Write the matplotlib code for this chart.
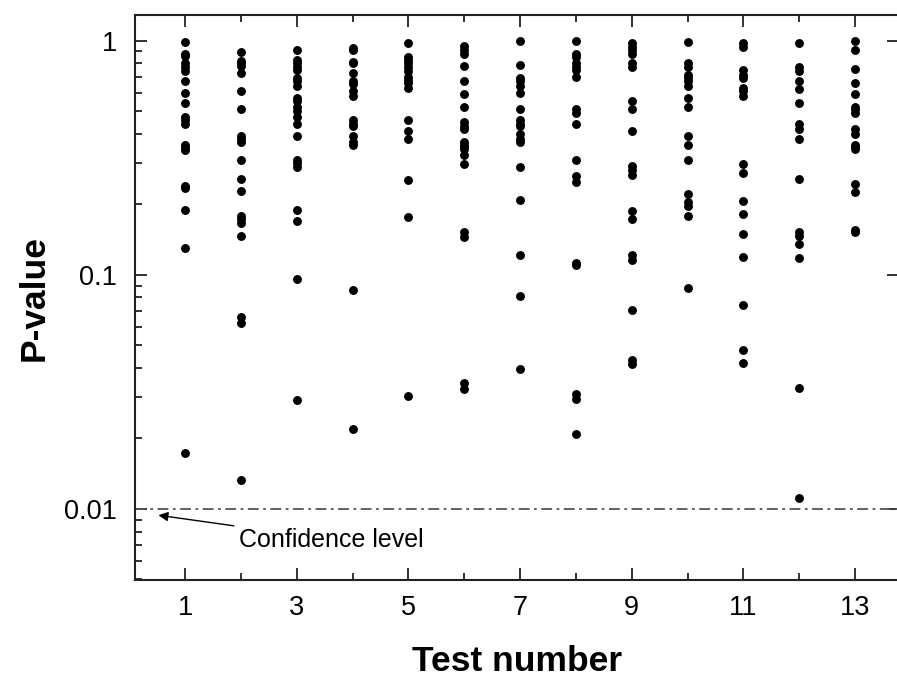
import matplotlib
matplotlib.use("Agg")
import matplotlib.pyplot as plt
from matplotlib.ticker import FixedLocator, LogLocator, NullFormatter, FixedFormatter

plt.rcParams["font.family"] = ["Liberation Sans", "DejaVu Sans"]

# P-values per test number
TESTS = list(range(1, 14))
P_VALUES = [
    [0.99, 0.875, 0.86, 0.80, 0.77, 0.74, 0.67, 0.60, 0.54, 0.47, 0.46, 0.44,
     0.36, 0.35, 0.34, 0.24, 0.235, 0.19, 0.13, 0.0174],
    [0.89, 0.82, 0.80, 0.78, 0.73, 0.61, 0.51, 0.39, 0.38, 0.37, 0.31, 0.257,
     0.227, 0.179, 0.173, 0.166, 0.147, 0.066, 0.0623, 0.0133],
    [0.91, 0.83, 0.80, 0.77, 0.75, 0.69, 0.67, 0.64, 0.57, 0.55, 0.52, 0.50,
     0.47, 0.44, 0.39, 0.31, 0.30, 0.29, 0.19, 0.17, 0.096, 0.0292],
    [0.93, 0.91, 0.81, 0.80, 0.73, 0.67, 0.65, 0.61, 0.58, 0.46, 0.44, 0.43,
     0.39, 0.37, 0.36, 0.0857, 0.022],
    [0.975, 0.855, 0.83, 0.80, 0.77, 0.74, 0.70, 0.68, 0.66, 0.63, 0.46, 0.41,
     0.38, 0.255, 0.177, 0.0305],
    [0.95, 0.91, 0.88, 0.78, 0.67, 0.59, 0.52, 0.45, 0.43, 0.42, 0.37, 0.36,
     0.353, 0.344, 0.326, 0.298, 0.152, 0.145, 0.0346, 0.0324],
    [1.0, 0.785, 0.69, 0.67, 0.64, 0.60, 0.51, 0.46, 0.44, 0.43, 0.40, 0.38,
     0.37, 0.29, 0.209, 0.121, 0.081, 0.0394],
    [0.995, 0.88, 0.855, 0.80, 0.775, 0.75, 0.70, 0.51, 0.49, 0.44, 0.31,
     0.263, 0.25, 0.112, 0.110, 0.031, 0.0296, 0.0208],
    [0.975, 0.94, 0.91, 0.88, 0.80, 0.775, 0.555, 0.51, 0.41, 0.292, 0.281,
     0.268, 0.187, 0.173, 0.121, 0.116, 0.071, 0.0431, 0.0414],
    [0.99, 0.80, 0.775, 0.71, 0.69, 0.67, 0.64, 0.57, 0.52, 0.39, 0.36, 0.31,
     0.221, 0.204, 0.196, 0.178, 0.088],
    [0.975, 0.94, 0.75, 0.71, 0.69, 0.63, 0.61, 0.58, 0.298, 0.272, 0.206,
     0.182, 0.150, 0.119, 0.0746, 0.0479, 0.0421],
    [0.975, 0.77, 0.74, 0.67, 0.62, 0.54, 0.44, 0.42, 0.38, 0.257, 0.153,
     0.147, 0.135, 0.118, 0.0327, 0.0111],
    [1.0, 0.91, 0.76, 0.66, 0.59, 0.52, 0.51, 0.49, 0.42, 0.40, 0.36, 0.353,
     0.344, 0.245, 0.226, 0.156, 0.152],
]
CONFIDENCE = 0.01

fig = plt.figure(figsize=(8.97, 6.78), dpi=100)
# right spine sits just past the image edge, as in the reference crop
ax = fig.add_axes([0.1505, 0.1445, 0.8518, 0.8334])

for t, vals in zip(TESTS, P_VALUES):
    ax.plot([t] * len(vals), vals, "o", color="black", ms=6.4, mec="none")

ax.axhline(CONFIDENCE, color="#555555", lw=1.3, ls=(0, (6, 2.5, 1.5, 2.5)))
ax.annotate("Confidence level", xy=(0.52, 0.0094), xytext=(1.97, 0.0074),
            fontsize=18, va="center", ha="left",
            arrowprops=dict(arrowstyle="-|>", color="black", lw=1.0,
                            mutation_scale=14, shrinkA=2, shrinkB=0))

ax.set_yscale("log")
ax.set_ylim(0.00497, 1.287)
ax.set_xlim(0.1, 13.79)

ax.xaxis.set_major_locator(FixedLocator([1, 3, 5, 7, 9, 11, 13]))
ax.xaxis.set_minor_locator(FixedLocator([2, 4, 6, 8, 10, 12]))
ax.yaxis.set_major_locator(FixedLocator([0.01, 0.1, 1]))
ax.yaxis.set_major_formatter(FixedFormatter(["0.01", "0.1", "1"]))
ax.yaxis.set_minor_locator(LogLocator(base=10, subs=range(2, 10)))
ax.yaxis.set_minor_formatter(NullFormatter())

ax.tick_params(which="both", direction="in", top=True, right=True,
               width=1.3, color="#222222")
ax.tick_params(which="major", length=8.5, labelsize=19.5)
ax.tick_params(which="minor", length=5)
ax.tick_params(axis="y", which="minor", right=False)
ax.tick_params(axis="x", which="major", pad=11)
ax.tick_params(axis="y", which="major", pad=13)
for sp in ax.spines.values():
    sp.set_linewidth(1.5)
    sp.set_color("#222222")

ax.set_xlabel("Test number", fontsize=25.5, fontweight="bold", labelpad=17)
ax.set_ylabel("P-value", fontsize=25.5, fontweight="bold", labelpad=10)

fig.savefig("out.png", dpi=100)
